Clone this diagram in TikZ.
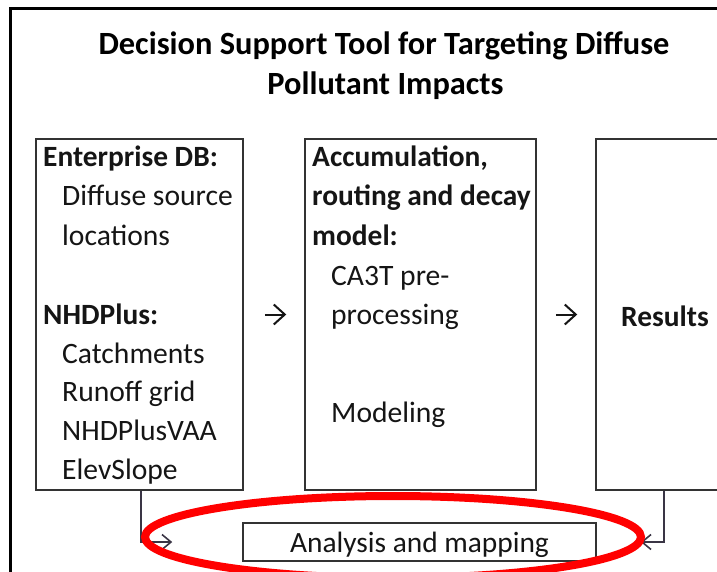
\documentclass[tikz,border=0pt]{standalone}
\usepackage{fontspec}
\setmainfont{Carlito}
\usetikzlibrary{arrows.meta}
\definecolor{ink}{HTML}{151515}
\definecolor{edge}{HTML}{333333}
\definecolor{linkc}{HTML}{3A3545}
\begin{document}
\begin{tikzpicture}[x=1pt,y=-1pt,
  boxnode/.style={draw=edge,line width=1.5pt,rectangle,inner sep=0pt},
  txt/.style={anchor=base west,inner sep=0pt,text=ink,font=\fontsize{29.6}{36}\selectfont},
  btxt/.style={anchor=base west,inner sep=0pt,text=ink,font=\fontsize{29.4}{36}\selectfont\bfseries},
  ttl/.style={anchor=base,inner sep=0pt,text=black,font=\fontsize{32.4}{40}\selectfont\bfseries},
  flow/.style={draw=ink,line width=2pt,-{Straight Barb[length=11pt,width=20pt,line width=2pt]}},
  conn/.style={draw=linkc,line width=1.4pt,-{Straight Barb[length=9pt,width=15pt,line width=1.6pt]}},
  hilite/.style={draw={rgb,255:red,255;green,0;blue,0},line width=8pt}]
\useasboundingbox (0,0) rectangle (717,572);
\begin{scope}
\clip (0,0) rectangle (717,572);
% outer frame
\draw[line width=2.6pt,black] (10.5,8.5) rectangle (760,620);
% title
\node[ttl] (t1) at (384,54.5) {Decision Support Tool for Targeting Diffuse};
\node[ttl] (t2) at (385.5,94.5) {Pollutant Impacts};
% boxes
\node[boxnode,minimum width=207pt,minimum height=351pt] (left) at (139.5,314.5) {};
\node[boxnode,minimum width=231pt,minimum height=351pt] (mid) at (420.5,314.5) {};
\node[boxnode,minimum width=207pt,minimum height=351pt] (right) at (699.5,314.5) {};
% left box text
\node[btxt] (l1) at (43,167) {Enterprise DB:};
\node[txt] (l2) at (62,206) {Diffuse source};
\node[txt] (l3) at (62,245) {locations};
\node[btxt] (l4) at (43,324) {NHDPlus:};
\node[txt] (l5) at (62,363) {Catchments};
\node[txt] (l6) at (62,401.5) {Runoff grid};
\node[txt] (l7) at (62,440) {NHDPlusVAA};
\node[txt] (l8) at (62,479) {ElevSlope};
% middle box text
\node[btxt] (m1) at (312,167) {Accumulation,};
\node[btxt] (m2) at (312,206) {routing and decay};
\node[btxt] (m3) at (312,245) {model:};
\node[txt] (m4) at (331,285) {CA3T pre-};
\node[txt] (m5) at (331,324) {processing};
\node[txt] (m6) at (331,422) {Modeling};
% right box text
\node[btxt] (r1) at (621,326) {Results};
% analysis box
\node[boxnode,anchor=base,minimum width=353pt,text height=29pt,text depth=9pt,
      text=ink,font=\fontsize{29.4}{36}\selectfont] (ana) at (419.5,552) {Analysis and mapping};
% flow arrows
\draw[flow,shorten <=21pt,shorten >=18pt] (left.east) -- (mid.west);
\draw[flow,shorten <=19pt,shorten >=18pt] (mid.east) -- (right.west);
% feedback connectors
\draw[conn] ([xshift=1.5pt]left.south) |- ([xshift=-70pt]ana.west);
\draw[conn] ([xshift=-35.5pt]right.south) |- ([xshift=44pt]ana.east);
% highlight
\draw[hilite] (393,537) ellipse [x radius=248, y radius=41];
\end{scope}
\end{tikzpicture}
\end{document}
